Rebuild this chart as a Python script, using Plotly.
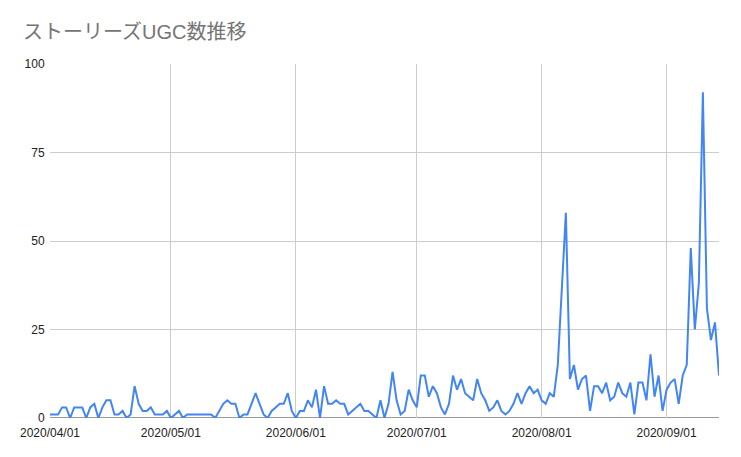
import pandas as pd
import plotly.graph_objects as go

title = "ストーリーズUGC数推移"
start_date = "2020-04-01"

# daily counts, one list per month
april = [1, 1, 1, 3, 3, 0, 3, 3, 3, 0, 3, 4, 0, 3, 5, 5, 1, 1, 2, 0,
         1, 9, 4, 2, 2, 3, 1, 1, 1, 2]
may = [0, 1, 2, 0, 1, 1, 1, 1, 1, 1, 1, 0, 2, 4, 5, 4, 4, 0, 1, 1,
       4, 7, 4, 1, 0, 2, 3, 4, 4, 7, 2]
june = [0, 2, 2, 5, 3, 8, 0, 9, 4, 4, 5, 4, 4, 1, 2, 3, 4, 2, 2, 1,
        0, 5, 0, 4, 13, 5, 1, 2, 8, 5]
july = [3, 12, 12, 6, 9, 7, 3, 1, 4, 12, 8, 11, 7, 6, 5, 11, 7, 5, 2, 3,
        5, 2, 1, 2, 4, 7, 4, 7, 9, 7, 8]
august = [5, 4, 7, 6, 15, 36, 58, 11, 15, 8, 11, 12, 2, 9, 9, 7, 10, 5, 6, 10,
          7, 6, 10, 1, 10, 10, 5, 18, 6, 12, 2]
september = [8, 10, 11, 4, 12, 15, 48, 25, 38, 92, 31, 22, 27, 12]

y_ticks = [0, 25, 50, 75, 100]

counts = april + may + june + july + august + september
dates = pd.date_range(start_date, periods=len(counts), freq="D")

fig = go.Figure()
fig.add_trace(go.Scatter(
    x=dates,
    y=counts,
    mode="lines",
    line=dict(color="#4285f4", width=2),
    showlegend=False,
))

# page body has an 8px margin, so the figure is 8px smaller than the window
fig.update_layout(
    width=733,
    height=449,
    paper_bgcolor="white",
    plot_bgcolor="white",
    margin=dict(l=40, r=22, t=56, b=39),
    font=dict(family="Liberation Sans, Arial, sans-serif", size=12, color="#222222"),
    title=dict(
        text=title,
        x=0.0205, xanchor="left",
        y=0.9465, yanchor="middle",
        font=dict(family="Liberation Sans, Noto Sans CJK JP, sans-serif", size=20, color="#757575"),
    ),
)

fig.update_xaxes(
    range=[dates[0], dates[-1]],
    tick0=start_date,
    dtick="M1",
    tickformat="%Y/%m/%d",
    showgrid=True,
    gridcolor="#cccccc",
    gridwidth=1,
    zeroline=False,
    showline=False,
    ticks="outside",
    ticklen=4,
    tickcolor="rgba(0,0,0,0)",
)

fig.update_yaxes(
    range=[0, 100],
    tickvals=y_ticks,
    showgrid=True,
    gridcolor="#cccccc",
    gridwidth=1,
    zeroline=False,
    showline=False,
    ticks="outside",
    ticklen=2,
    tickcolor="rgba(0,0,0,0)",
)

# dark baseline at zero, under the data line
fig.add_hline(y=0, line=dict(color="#333333", width=1), layer="below")

fig.write_html("out.html")
